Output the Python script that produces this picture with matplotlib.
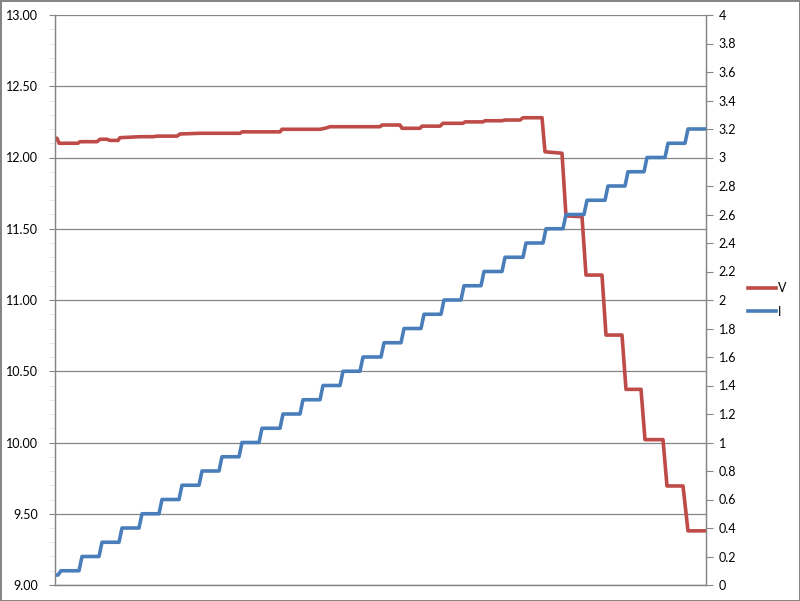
import numpy as np
import matplotlib
matplotlib.use("Agg")
import matplotlib.pyplot as plt
from matplotlib.ticker import MultipleLocator, FormatStrFormatter

# data (time in samples)

# voltage: breakpoints (time, volts)
v_time = [0,      2,      4,      23,     25,     42,     45,     52,
          55,     63,     65,     85,     98,     102,    122,    125,
          145,    185,    187,    225,    227,    265,    270,    275,
          325,    327,    345,    347,    365,    367,    385,    388,
          408,    410,    428,    430,    447,    450,    465,    468,
          487,    490,    507,    511,    527,    531,    547,    551,
          567,    571,    586,    590,    608,    612,    628,    633,
          651]
v_vals = [12.135, 12.135, 12.100, 12.100, 12.111, 12.111, 12.128, 12.128,
          12.120, 12.120, 12.139, 12.146, 12.146, 12.150, 12.150, 12.165,
          12.170, 12.170, 12.180, 12.180, 12.198, 12.198, 12.205, 12.216,
          12.216, 12.228, 12.228, 12.205, 12.205, 12.220, 12.220, 12.240,
          12.240, 12.250, 12.250, 12.258, 12.258, 12.263, 12.263, 12.279,
          12.279, 12.040, 12.030, 11.590, 11.585, 11.175, 11.175, 10.754,
          10.754, 10.373, 10.373, 10.020, 10.020, 9.695,  9.695,  9.380,
          9.380]

# current: step times and levels (amps)
i_start = 0.07
i_steps = [3, 24, 44, 64, 84, 104, 124, 144, 164, 184, 204, 225, 245, 265,
           285, 305, 326, 346, 366, 386, 406, 426, 447, 468, 488, 508,
           529, 550, 570, 589, 610, 630]
i_levels = [0.1, 0.2, 0.3, 0.4, 0.5, 0.6, 0.7, 0.8, 0.9, 1.0, 1.1, 1.2, 1.3, 1.4,
            1.5, 1.6, 1.7, 1.8, 1.9, 2.0, 2.1, 2.2, 2.3, 2.4, 2.5, 2.6,
            2.7, 2.8, 2.9, 3.0, 3.1, 3.2]
t_end = 651

# build current staircase
i_t = [0]
i_v = [i_start]
prev = i_start
for t, lvl in zip(i_steps, i_levels):
    i_t += [t, t + 3]
    i_v += [prev, lvl]
    prev = lvl
i_t.append(t_end)
i_v.append(prev)

red = '#BE4B48'
blue = '#4A7EBB'
grey = '#868686'

plt.rcParams['font.family'] = ['Lato', 'DejaVu Sans']

fig = plt.figure(figsize=(8, 6.01), dpi=100, edgecolor=grey, linewidth=2)
ax = fig.add_axes([55/800, 16/601, 651/800, 570/601])
ax2 = ax.twinx()

lv, = ax.plot(v_time, v_vals, color=red, lw=2.6, solid_joinstyle='round', label='V')
li, = ax2.plot(i_t, i_v, color=blue, lw=2.6, solid_joinstyle='round', label='I')

ax.set_xlim(0, t_end)
ax.set_ylim(9, 13)
ax2.set_ylim(0, 4)

# left axis
ax.yaxis.set_major_locator(MultipleLocator(0.5))
ax.yaxis.set_minor_locator(MultipleLocator(0.1))
ax.yaxis.set_major_formatter(FormatStrFormatter('%.2f'))
ax.tick_params(axis='y', which='major', length=4, color=grey, labelsize=9, pad=8)
ax.tick_params(axis='y', which='minor', length=4, color='#e4e4e4')
ax.set_xticks([])
ax.grid(axis='y', color=grey, lw=0.9)
ax.set_axisbelow(True)

# right axis
ax2.yaxis.set_major_locator(MultipleLocator(0.2))
ax2.yaxis.set_major_formatter(FormatStrFormatter('%g'))
ax2.tick_params(axis='y', length=5, color=grey, labelsize=9, pad=4)

for a in (ax, ax2):
    for s in a.spines.values():
        s.set_color(grey)
        s.set_linewidth(0.9)
    a.spines['top'].set_visible(False)

# legend at the right
fig.legend([lv, li], ['V', 'I'], loc='center left',
           bbox_to_anchor=(737/800, 1 - 300/601), frameon=False,
           fontsize=9, handlelength=2.2, handletextpad=0.15, labelspacing=0.9)

fig.savefig('out.png', dpi=100)
